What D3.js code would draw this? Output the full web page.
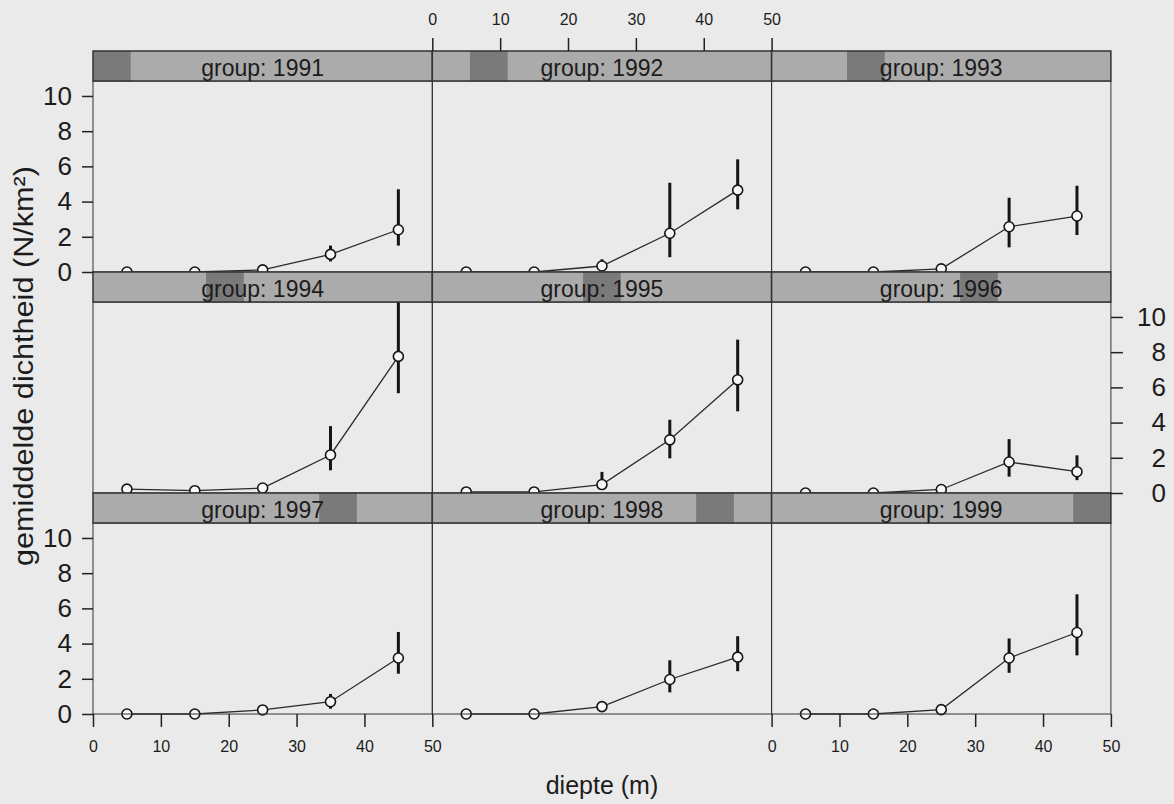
<!DOCTYPE html>
<html>
<head>
<meta charset="utf-8">
<script src="https://cdn.jsdelivr.net/npm/d3@7"></script>
<style>
  body { margin: 0; background: #ececec; }
  svg { font-family: 'Liberation Sans', Arial, sans-serif; display: block; }
</style>
</head>
<body>
<div id="chart"></div>
<script>
// Panel levels (one panel per year)
var groups = [1991, 1992, 1993, 1994, 1995, 1996, 1997, 1998, 1999]

// Depth classes on the x axis (m)
var depths = [5, 15, 25, 35, 45]

// Mean density per depth, one row per year
var meanValues = [
  [0, 0, 0.12, 1.0, 2.4],
  [0, 0, 0.34, 2.2, 4.65],
  [0, 0, 0.18, 2.57, 3.18],
  [0.22, 0.13, 0.28, 2.16, 7.76],
  [0.06, 0.06, 0.48, 3.02, 6.43],
  [0, 0, 0.2, 1.76, 1.21],
  [0, 0, 0.23, 0.7, 3.18],
  [0, 0, 0.42, 1.96, 3.23],
  [0, 0, 0.25, 3.18, 4.63]
]

// Lower end of the error bars
var lowerValues = [
  [0, 0, 0.05, 0.6, 1.5],
  [0, 0, 0.05, 0.84, 3.56],
  [0, 0, 0.1, 1.4, 2.1],
  [0.22, 0.13, 0.2, 1.29, 5.67],
  [0.06, 0.06, 0.2, 1.97, 4.64],
  [0, 0, 0.15, 0.93, 0.73],
  [0, 0, 0.15, 0.3, 2.29],
  [0, 0, 0.2, 1.23, 2.43],
  [0, 0, 0.15, 2.34, 3.33]
]

// Upper end of the error bars
var upperValues = [
  [0, 0, 0.2, 1.5, 4.7],
  [0, 0, 0.72, 5.07, 6.4],
  [0, 0, 0.3, 4.22, 4.9],
  [0.22, 0.13, 0.36, 3.8, 11.2],
  [0.06, 0.06, 1.2, 4.16, 8.71],
  [0, 0, 0.3, 3.06, 2.14],
  [0, 0, 0.3, 1.14, 4.66],
  [0, 0, 0.66, 3.05, 4.42],
  [0, 0, 0.35, 4.29, 6.8]
]

// Tick labels
var xTicks = [0, 10, 20, 30, 40, 50]
var yTicks = [0, 2, 4, 6, 8, 10]

// Layout variables
var width = 1174
var height = 804
var margin = { top: 51, left: 93 }
var panelWidth = 339.3
var panelHeight = 191
var stripHeight = 30
var nCols = 3

// Scales shared by all panels
var x = d3.scaleLinear().domain([0, 50]).range([0, panelWidth])
var y = d3.scaleLinear().domain([0, 10.85]).range([panelHeight, 0])

var svg = d3.select('#chart').append('svg')
  .attr('width', width)
  .attr('height', height)

svg.append('rect')
  .attr('width', width)
  .attr('height', height)
  .attr('fill', '#eaeaea')

/**
 * Top left corner of a panel (below its strip)
 */
function panelOrigin (i) {
  var col = i % nCols
  var row = Math.floor(i / nCols)
  return [margin.left + col * panelWidth, margin.top + row * (stripHeight + panelHeight) + stripHeight]
}

var line = d3.line()
  .x(function (d) { return x(d[0]) })
  .y(function (d) { return y(d[1]) })

// Draw panels in order so that each strip covers the row above
groups.forEach(function (year, i) {
  var pos = panelOrigin(i)
  var g = svg.append('g')
    .attr('transform', 'translate(' + pos[0] + ',' + pos[1] + ')')

  var pts = depths.map(function (d, j) {
    return [d, meanValues[i][j], lowerValues[i][j], upperValues[i][j]]
  })

  // Error bars
  g.selectAll('.err')
    .data(pts.filter(function (d) { return d[3] > d[2] }))
    .enter().append('line')
    .attr('x1', function (d) { return x(d[0]) })
    .attr('x2', function (d) { return x(d[0]) })
    .attr('y1', function (d) { return y(d[2]) })
    .attr('y2', function (d) { return y(d[3]) })
    .attr('stroke', '#141414')
    .attr('stroke-width', 3)

  // Connecting line
  g.append('path')
    .datum(pts)
    .attr('d', line)
    .attr('fill', 'none')
    .attr('stroke', '#2a2a2a')
    .attr('stroke-width', 1.3)

  // Open circles
  g.selectAll('.pt')
    .data(pts)
    .enter().append('circle')
    .attr('cx', function (d) { return x(d[0]) })
    .attr('cy', function (d) { return y(d[1]) })
    .attr('r', 5)
    .attr('fill', '#f7f7f7')
    .attr('stroke', '#141414')
    .attr('stroke-width', 1.6)

  // Panel border
  g.append('rect')
    .attr('width', panelWidth)
    .attr('height', panelHeight)
    .attr('fill', 'none')
    .attr('stroke', '#333')
    .attr('stroke-width', 1)

  // Strip with level indicator
  var strip = g.append('g')
    .attr('transform', 'translate(0,' + (-stripHeight) + ')')

  strip.append('rect')
    .attr('width', panelWidth)
    .attr('height', stripHeight)
    .attr('fill', '#ababab')

  strip.append('rect')
    .attr('x', i * panelWidth / groups.length)
    .attr('width', panelWidth / groups.length)
    .attr('height', stripHeight)
    .attr('fill', '#7a7a7a')

  strip.append('rect')
    .attr('width', panelWidth)
    .attr('height', stripHeight)
    .attr('fill', 'none')
    .attr('stroke', '#333')
    .attr('stroke-width', 1.5)

  strip.append('text')
    .attr('x', panelWidth / 2)
    .attr('y', stripHeight - 5)
    .attr('text-anchor', 'middle')
    .attr('font-size', 23)
    .attr('fill', '#1c1c1c')
    .text('group: ' + year)
})

/**
 * Adds an axis and styles it like the lattice axes
 */
function addAxis (axis, tx, ty, fontSize) {
  var a = svg.append('g')
    .attr('transform', 'translate(' + tx + ',' + ty + ')')
    .call(axis)
  a.select('.domain').remove()
  a.attr('font-size', fontSize)
  a.selectAll('.tick line').attr('stroke', '#222').attr('stroke-width', 1.5)
  a.selectAll('.tick text')
    .attr('fill', '#1c1c1c')
    .style('font-size', fontSize + 'px')
    .attr('font-family', 'Liberation Sans, Arial, sans-serif')
  return a
}

// Left y axes for rows 1 and 3, right y axis for row 2
var o0 = panelOrigin(0)
var o3 = panelOrigin(3)
var o6 = panelOrigin(6)
addAxis(d3.axisLeft(y).tickValues(yTicks).tickSize(11).tickPadding(10), o0[0], o0[1], 26)
addAxis(d3.axisLeft(y).tickValues(yTicks).tickSize(11).tickPadding(10), o6[0], o6[1], 26)
addAxis(d3.axisRight(y).tickValues(yTicks).tickSize(12).tickPadding(14), o3[0] + nCols * panelWidth, o3[1], 26)
  .selectAll('.tick text').attr('text-anchor', 'end').attr('dx', '1.12em')

// Top x axis above the middle column, bottom x axes under the outer columns
var o1 = panelOrigin(1)
addAxis(d3.axisTop(x).tickValues(xTicks).tickSize(13).tickPadding(13), o1[0], o1[1] - stripHeight, 16)
var o8 = panelOrigin(8)
addAxis(d3.axisBottom(x).tickValues(xTicks).tickSize(13).tickPadding(14), o6[0], o6[1] + panelHeight, 16)
addAxis(d3.axisBottom(x).tickValues(xTicks).tickSize(13).tickPadding(14), o8[0], o8[1] + panelHeight, 16)

// Axis titles
svg.append('text')
  .attr('x', margin.left + nCols * panelWidth / 2)
  .attr('y', 794)
  .attr('text-anchor', 'middle')
  .attr('font-size', 25)
  .attr('fill', '#1c1c1c')
  .text('diepte (m)')

svg.append('text')
  .attr('transform', 'translate(33,' + 366 + ') rotate(-90)')
  .attr('text-anchor', 'middle')
  .attr('font-size', 27)
  .attr('textLength', 400)
  .attr('lengthAdjust', 'spacingAndGlyphs')
  .attr('fill', '#1c1c1c')
  .text('gemiddelde dichtheid (N/km²)')
</script>
</body>
</html>
